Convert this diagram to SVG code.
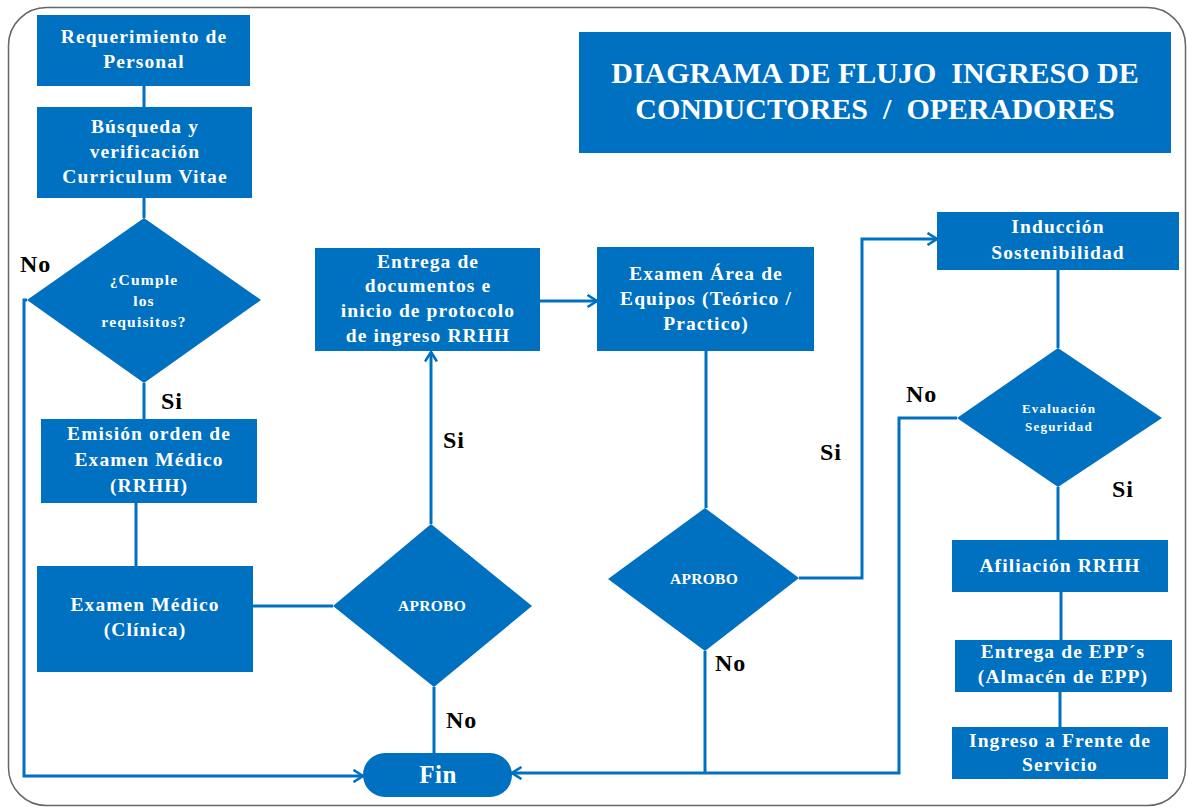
<svg xmlns="http://www.w3.org/2000/svg" width="1187" height="808" viewBox="0 0 1187 808">
<style>
.box{fill:#0070C0}
.t{font-family:"Liberation Serif","Times New Roman",serif;font-weight:bold;fill:#fff;text-anchor:middle;font-size:19.5px;letter-spacing:1.1px}
.ts{font-size:15.5px;letter-spacing:1.2px}
.tx{font-size:13px;letter-spacing:1.2px}
.lbl{font-family:"Liberation Serif","Times New Roman",serif;font-weight:bold;fill:#000;font-size:24px;letter-spacing:1px}
.c{fill:none;stroke:#0070C0;stroke-width:3}
</style>
<defs>
<marker id="arr" viewBox="0 0 14 14" refX="12.5" refY="7" markerWidth="14" markerHeight="14" markerUnits="userSpaceOnUse" orient="auto">
<path d="M3,1 L12.5,7 L3,13" fill="none" stroke="#0070C0" stroke-width="2.6"/>
</marker>
</defs>
<rect x="8.5" y="7.5" width="1177" height="798" rx="38" fill="#fff" stroke="#666" stroke-width="1.5"/>

<g id="connectors">
<path class="c" d="M144,86 V107"/>
<path class="c" d="M144,198 V218"/>
<path class="c" d="M144,383 V419"/>
<path class="c" d="M136,503 V566"/>
<path class="c" d="M253,606 H333"/>
<path class="c" d="M27,300 H24 V776 H363" marker-end="url(#arr)"/>
<path class="c" d="M431,524 V352" marker-end="url(#arr)"/>
<path class="c" d="M434,687 V753"/>
<path class="c" d="M540,301 H597" marker-end="url(#arr)"/>
<path class="c" d="M706,351 V508"/>
<path class="c" d="M799,578 H862 V239 H937" marker-end="url(#arr)"/>
<path class="c" d="M705,651 V773"/>
<path class="c" d="M957,418 H899 V773 H512" marker-end="url(#arr)"/>
<path class="c" d="M1058,270 V348"/>
<path class="c" d="M1058,487 V540"/>
<path class="c" d="M1061,592 V640"/>
<path class="c" d="M1060,692 V727"/>
</g>

<g id="title">
<rect class="box" x="579" y="32" width="592" height="121"/>
<text class="t" style="font-size:30px;letter-spacing:0px" x="875" y="83">DIAGRAMA DE FLUJO&#160; INGRESO DE</text>
<text class="t" style="font-size:30px;letter-spacing:0px" x="875" y="119">CONDUCTORES&#160; /&#160; OPERADORES</text>
</g>

<g id="requerimiento">
<rect class="box" x="37" y="15" width="213" height="71"/>
<text class="t" x="144" y="43">Requerimiento de</text>
<text class="t" x="144" y="68">Personal</text>
</g>

<g id="busqueda">
<rect class="box" x="37" y="107" width="215" height="91"/>
<text class="t" x="145" y="133">Búsqueda y</text>
<text class="t" x="145" y="158">verificación</text>
<text class="t" x="145" y="183">Curriculum Vitae</text>
</g>

<g id="cumple">
<polygon class="box" points="144,218 261,300 144,383 27,300"/>
<text class="t ts" x="144" y="285">¿Cumple</text>
<text class="t ts" x="144" y="306">los</text>
<text class="t ts" x="144" y="327">requisitos?</text>
</g>

<g id="emision">
<rect class="box" x="41" y="419" width="216" height="84"/>
<text class="t" x="149" y="440">Emisión orden de</text>
<text class="t" x="149" y="466">Examen Médico</text>
<text class="t" x="149" y="492">(RRHH)</text>
</g>

<g id="examen-medico">
<rect class="box" x="37" y="566" width="216" height="106"/>
<text class="t" x="145" y="611">Examen Médico</text>
<text class="t" x="145" y="636">(Clínica)</text>
</g>

<g id="aprobo1">
<polygon class="box" points="431,524 532,606 434,687 333,606"/>
<text class="t ts" style="letter-spacing:0.3px" x="432" y="611">APROBO</text>
</g>

<g id="entrega-docs">
<rect class="box" x="315" y="248" width="225" height="103"/>
<text class="t" x="428" y="268">Entrega de</text>
<text class="t" x="428" y="292">documentos e</text>
<text class="t" x="428" y="317">inicio de protocolo</text>
<text class="t" x="428" y="342">de ingreso RRHH</text>
</g>

<g id="examen-area">
<rect class="box" x="597" y="247" width="217" height="104"/>
<text class="t" x="706" y="280">Examen Área de</text>
<text class="t" x="706" y="305">Equipos (Teórico /</text>
<text class="t" x="706" y="330">Practico)</text>
</g>

<g id="aprobo2">
<polygon class="box" points="705,508 799,578 705,651 608,579"/>
<text class="t ts" style="letter-spacing:0.3px" x="704" y="584">APROBO</text>
</g>

<g id="induccion">
<rect class="box" x="937" y="212" width="242" height="58"/>
<text class="t" x="1058" y="233">Inducción</text>
<text class="t" x="1058" y="259">Sostenibilidad</text>
</g>

<g id="evaluacion">
<polygon class="box" points="1058,348 1162,418 1058,487 957,418"/>
<text class="t tx" x="1059" y="413">Evaluación</text>
<text class="t tx" x="1059" y="431">Seguridad</text>
</g>

<g id="afiliacion">
<rect class="box" x="952" y="540" width="216" height="52"/>
<text class="t" x="1060" y="572">Afiliación RRHH</text>
</g>

<g id="entrega-epp">
<rect class="box" x="955" y="640" width="217" height="52"/>
<text class="t" x="1063" y="658">Entrega de EPP´s</text>
<text class="t" x="1063" y="683">(Almacén de EPP)</text>
</g>

<g id="ingreso-frente">
<rect class="box" x="952" y="727" width="216" height="52"/>
<text class="t" x="1060" y="747">Ingreso a Frente de</text>
<text class="t" x="1060" y="771">Servicio</text>
</g>

<g id="fin">
<rect class="box" x="363" y="753" width="149" height="44" rx="22"/>
<text class="t" style="font-size:25px;letter-spacing:0.5px" x="438" y="783">Fin</text>
</g>

<g id="labels">
<text class="lbl" x="20" y="272">No</text>
<text class="lbl" x="161" y="409">Si</text>
<text class="lbl" x="443" y="448">Si</text>
<text class="lbl" x="446" y="728">No</text>
<text class="lbl" x="820" y="460">Si</text>
<text class="lbl" x="715" y="671">No</text>
<text class="lbl" x="906" y="402">No</text>
<text class="lbl" x="1112" y="497">Si</text>
</g>
</svg>
